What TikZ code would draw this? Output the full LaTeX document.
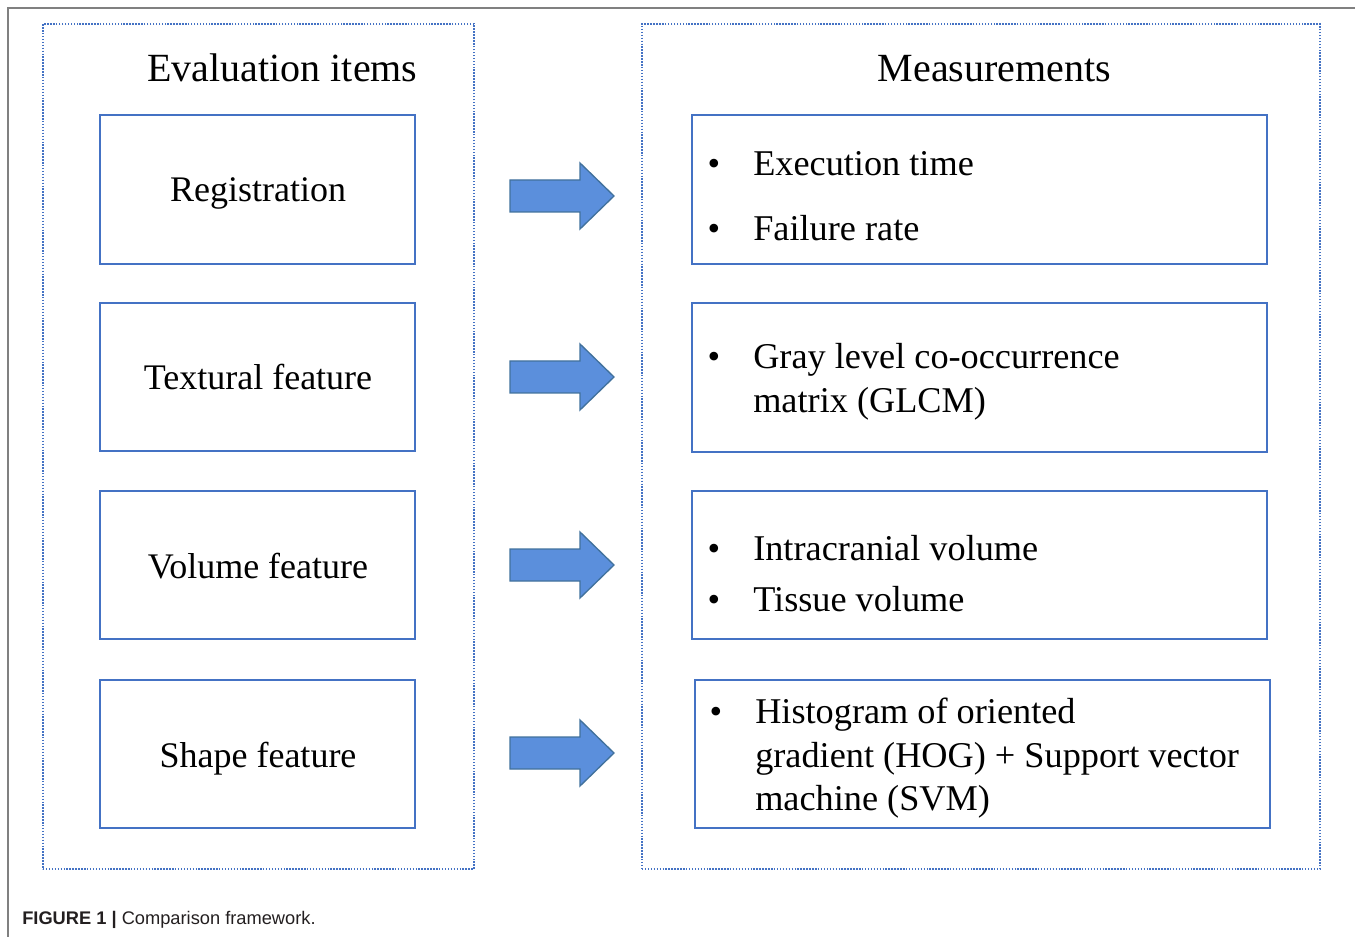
\documentclass[tikz,border=0pt]{standalone}
\usepackage{fontspec}
\setmainfont{Liberation Serif}
\newfontfamily\capfont{Liberation Sans}
\usetikzlibrary{fit}
\definecolor{boxblue}{HTML}{4472C4}
\definecolor{arrfill}{HTML}{5B8FDC}
\definecolor{arrline}{HTML}{41719C}
\definecolor{framegray}{HTML}{808080}
\definecolor{captxt}{HTML}{231F20}
\tikzset{
  panel/.style={draw=boxblue, line width=1.1pt, dash pattern=on 1.1pt off 1.1pt, inner sep=0pt},
  itembox/.style={draw=boxblue, line width=1.5pt, inner sep=0pt},
  blockarrow/.style={fill=arrfill, draw=arrline, line width=1pt, line join=miter},
  title/.style={inner sep=0pt, anchor=base, font=\fontsize{30}{36}\selectfont},
  lefttxt/.style={inner sep=0pt, anchor=base, font=\fontsize{27}{32}\selectfont},
  righttxt/.style={inner sep=0pt, anchor=base west, font=\fontsize{27.2}{32}\selectfont},
  bullet/.style={inner sep=0pt, anchor=base, font=\fontsize{27}{32}\selectfont},
}
\begin{document}
\begin{tikzpicture}[x=0.75pt,y=-0.75pt]
\useasboundingbox (0,0) rectangle (1355,937);
% outer frame (top and left only)
\draw[framegray, line width=1.5pt] (8,937) -- (8,8) -- (1355,8);
% dotted panels
\node[panel, fit={(43,24) (474,869)}] (pl) {};
\node[panel, fit={(642,24) (1320,869)}] (pr) {};
% titles
\node[title] (tl) at (282.5,82) {Evaluation items};
\node[title] (tr) at (994.5,82) {Measurements};
% left boxes
\node[itembox, fit={(100,115) (415,264)}] (l1) {};
\node[itembox, fit={(100,303) (415,451)}] (l2) {};
\node[itembox, fit={(100,491) (415,639)}] (l3) {};
\node[itembox, fit={(100,680) (415,828)}] (l4) {};
\node[lefttxt] (l1t) at (258,202) {Registration};
\node[lefttxt] (l2t) at (258,390) {Textural feature};
\node[lefttxt] (l3t) at (258,578) {Volume feature};
\node[lefttxt] (l4t) at (258,767) {Shape feature};
% right boxes
\node[itembox, fit={(692,115) (1267,264)}] (r1) {};
\node[itembox, fit={(692,303) (1267,452)}] (r2) {};
\node[itembox, fit={(692,491) (1267,639)}] (r3) {};
\node[itembox, fit={(695,680) (1270,828)}] (r4) {};
% right texts
\node[bullet] (b1a) at (714,176) {•};
\node[righttxt] (r1a) at (753,176) {Execution time};
\node[bullet] (b1b) at (714,241) {•};
\node[righttxt] (r1b) at (753,241) {Failure rate};
\node[bullet] (b2a) at (714,369) {•};
\node[righttxt] (r2a) at (753,369) {Gray level co-occurrence};
\node[righttxt] (r2b) at (753,412) {matrix (GLCM)};
\node[bullet] (b3a) at (714,560) {•};
\node[righttxt] (r3a) at (753,560) {Intracranial volume};
\node[bullet] (b3b) at (714,611) {•};
\node[righttxt] (r3b) at (753,611) {Tissue volume};
\node[bullet] (b4a) at (716,723) {•};
\node[righttxt] (r4a) at (755,723) {Histogram of oriented};
\node[righttxt] (r4b) at (755,767) {gradient (HOG) + Support vector};
\node[righttxt] (r4c) at (755,810) {machine (SVM)};
% block arrows
\foreach \yy in {196,377,565,753}{
  \draw[blockarrow] (510,\yy-16) -- (580,\yy-16) -- (580,\yy-33) -- (614,\yy)
    -- (580,\yy+33) -- (580,\yy+16) -- (510,\yy+16) -- cycle;
}
% caption
\node[inner sep=0pt, anchor=base west, text=captxt, font=\capfont\fontsize{13.7}{16}\selectfont] (cap) at (22,924) {\textbf{FIGURE 1 |} Comparison framework.};
\end{tikzpicture}
\end{document}
